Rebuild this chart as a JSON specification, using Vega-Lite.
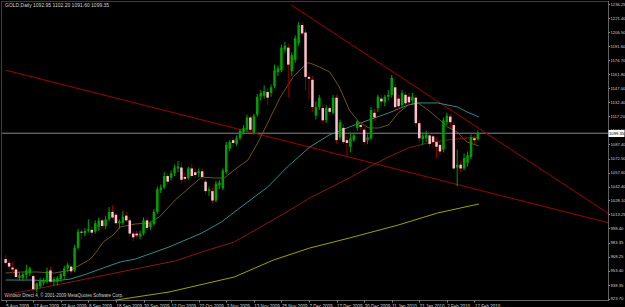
{
  "$schema": "https://vega.github.io/schema/vega-lite/v6.json",
  "width": 607,
  "height": 299,
  "autosize": {"type": "none"},
  "padding": {"left": 1, "top": 1, "right": 17, "bottom": 7},
  "background": "#000000",
  "config": {
    "view": {"stroke": "#7a7a7a", "strokeDash": [1, 1], "strokeWidth": 1},
    "font": "Liberation Sans",
    "axis": {"labelOverlap": false, "labelFont": "Liberation Sans", "titleFont": "Liberation Sans"},
    "axisX": {"labelOverlap": false, "labelSeparation": 0}
  },
  "title": {
    "text": "GOLD,Daily  1092.95 1102.20 1091.60 1099.35",
    "anchor": "start",
    "frame": "group",
    "offset": -7,
    "dx": 4,
    "fontSize": 5,
    "fontWeight": "normal",
    "font": "Liberation Sans",
    "color": "#d0d0d0"
  },
  "datasets": {
    "candles": [
      {"i":0,"o":966,"h":970,"l":960,"c":962},{"i":1,"o":962,"h":966,"l":955,"c":958},{"i":2,"o":957,"h":963,"l":951,"c":955},{"i":3,"o":955,"h":957,"l":944,"c":947},{"i":4,"o":946,"h":952,"l":943,"c":949},
      {"i":5,"o":946,"h":952,"l":943,"c":950},{"i":6,"o":949,"h":960,"l":945,"c":954},{"i":7,"o":951,"h":958,"l":948,"c":956},{"i":8,"o":948,"h":950,"l":930,"c":934},{"i":9,"o":934,"h":941,"l":931,"c":940},
      {"i":10,"o":937,"h":946,"l":935,"c":943},{"i":11,"o":941,"h":946,"l":938,"c":944},{"i":12,"o":942,"h":957,"l":940,"c":953},{"i":13,"o":954,"h":958,"l":940,"c":942},{"i":14,"o":942,"h":947,"l":938,"c":945},
      {"i":15,"o":942,"h":948,"l":938,"c":946},{"i":16,"o":945,"h":953,"l":942,"c":950},{"i":17,"o":948,"h":959,"l":945,"c":956},{"i":18,"o":956,"h":962,"l":952,"c":960},{"i":19,"o":958,"h":960,"l":950,"c":953},
      {"i":20,"o":954,"h":981,"l":952,"c":978},{"i":21,"o":978,"h":998,"l":976,"c":995},{"i":22,"o":995,"h":998,"l":987,"c":994},{"i":23,"o":993,"h":999,"l":990,"c":996},{"i":24,"o":996,"h":1008,"l":994,"c":998},
      {"i":25,"o":997,"h":1000,"l":990,"c":994},{"i":26,"o":995,"h":1007,"l":993,"c":1004},{"i":27,"o":1000,"h":1010,"l":996,"c":1007},{"i":28,"o":1007,"h":1009,"l":998,"c":1001},{"i":29,"o":1001,"h":1012,"l":998,"c":1008},
      {"i":30,"o":1008,"h":1021,"l":1006,"c":1016},{"i":31,"o":1016,"h":1023,"l":1008,"c":1010},{"i":32,"o":1013,"h":1015,"l":1002,"c":1004},{"i":33,"o":1004,"h":1008,"l":998,"c":1006},{"i":34,"o":1004,"h":1017,"l":1002,"c":1011},
      {"i":35,"o":1012,"h":1016,"l":1005,"c":1007},{"i":36,"o":1007,"h":1010,"l":990,"c":993},{"i":37,"o":993,"h":996,"l":985,"c":989},{"i":38,"o":993,"h":996,"l":988,"c":991},{"i":39,"o":990,"h":996,"l":987,"c":993},
      {"i":40,"o":993,"h":1010,"l":991,"c":1007},{"i":41,"o":1007,"h":1010,"l":996,"c":999},{"i":42,"o":1000,"h":1006,"l":997,"c":1004},{"i":43,"o":1003,"h":1019,"l":1001,"c":1016},{"i":44,"o":1016,"h":1043,"l":1014,"c":1040},
      {"i":45,"o":1039,"h":1045,"l":1036,"c":1042},{"i":46,"o":1042,"h":1058,"l":1040,"c":1054},{"i":47,"o":1054,"h":1057,"l":1045,"c":1048},{"i":48,"o":1052,"h":1060,"l":1049,"c":1057},{"i":49,"o":1057,"h":1066,"l":1054,"c":1063},
      {"i":50,"o":1062,"h":1070,"l":1058,"c":1064},{"i":51,"o":1063,"h":1068,"l":1046,"c":1050},{"i":52,"o":1053,"h":1058,"l":1048,"c":1051},{"i":53,"o":1052,"h":1064,"l":1050,"c":1062},{"i":54,"o":1062,"h":1067,"l":1052,"c":1054},
      {"i":55,"o":1058,"h":1062,"l":1052,"c":1055},{"i":56,"o":1057,"h":1062,"l":1053,"c":1059},{"i":57,"o":1059,"h":1062,"l":1050,"c":1053},{"i":58,"o":1048,"h":1051,"l":1035,"c":1038},{"i":59,"o":1038,"h":1043,"l":1033,"c":1040},
      {"i":60,"o":1038,"h":1042,"l":1025,"c":1028},{"i":61,"o":1028,"h":1049,"l":1026,"c":1046},{"i":62,"o":1044,"h":1050,"l":1040,"c":1047},{"i":63,"o":1041,"h":1062,"l":1039,"c":1060},{"i":64,"o":1058,"h":1090,"l":1056,"c":1087},
      {"i":65,"o":1083,"h":1092,"l":1080,"c":1090},{"i":66,"o":1092,"h":1095,"l":1085,"c":1089},{"i":67,"o":1088,"h":1097,"l":1086,"c":1094},{"i":68,"o":1094,"h":1104,"l":1092,"c":1102},{"i":69,"o":1100,"h":1108,"l":1098,"c":1105},
      {"i":70,"o":1103,"h":1119,"l":1101,"c":1116},{"i":71,"o":1116,"h":1118,"l":1101,"c":1103},{"i":72,"o":1100,"h":1120,"l":1098,"c":1118},{"i":73,"o":1119,"h":1141,"l":1117,"c":1138},{"i":74,"o":1138,"h":1145,"l":1134,"c":1142},
      {"i":75,"o":1139,"h":1150,"l":1136,"c":1144},{"i":76,"o":1143,"h":1147,"l":1129,"c":1137},{"i":77,"o":1142,"h":1151,"l":1138,"c":1148},{"i":78,"o":1149,"h":1172,"l":1147,"c":1166},{"i":79,"o":1164,"h":1171,"l":1160,"c":1168},
      {"i":80,"o":1166,"h":1193,"l":1164,"c":1190},{"i":81,"o":1188,"h":1196,"l":1185,"c":1192},{"i":82,"o":1190,"h":1194,"l":1137,"c":1172},{"i":83,"o":1165,"h":1185,"l":1160,"c":1182},{"i":84,"o":1177,"h":1203,"l":1174,"c":1200},
      {"i":85,"o":1195,"h":1217,"l":1192,"c":1214},{"i":86,"o":1214,"h":1217,"l":1202,"c":1205},{"i":87,"o":1206,"h":1209,"l":1145,"c":1159},{"i":88,"o":1159,"h":1163,"l":1135,"c":1157},{"i":89,"o":1156,"h":1160,"l":1122,"c":1127},
      {"i":90,"o":1118,"h":1133,"l":1114,"c":1127},{"i":91,"o":1127,"h":1140,"l":1124,"c":1137},{"i":92,"o":1126,"h":1130,"l":1110,"c":1113},{"i":93,"o":1113,"h":1129,"l":1110,"c":1126},{"i":94,"o":1126,"h":1129,"l":1118,"c":1122},
      {"i":95,"o":1121,"h":1140,"l":1119,"c":1137},{"i":96,"o":1137,"h":1140,"l":1088,"c":1092},{"i":97,"o":1095,"h":1114,"l":1092,"c":1111},{"i":98,"o":1105,"h":1109,"l":1088,"c":1090},{"i":99,"o":1092,"h":1096,"l":1074,"c":1089},
      {"i":100,"o":1085,"h":1100,"l":1079,"c":1094},{"i":101,"o":1092,"h":1100,"l":1090,"c":1097},{"i":102,"o":1105,"h":1113,"l":1102,"c":1112},{"i":103,"o":1108,"h":1112,"l":1102,"c":1106},{"i":104,"o":1103,"h":1106,"l":1087,"c":1090},
      {"i":105,"o":1092,"h":1098,"l":1088,"c":1095},{"i":106,"o":1094,"h":1127,"l":1092,"c":1124},{"i":107,"o":1121,"h":1125,"l":1112,"c":1116},{"i":108,"o":1126,"h":1140,"l":1122,"c":1138},{"i":109,"o":1136,"h":1140,"l":1128,"c":1133},
      {"i":110,"o":1132,"h":1140,"l":1128,"c":1138},{"i":111,"o":1138,"h":1145,"l":1134,"c":1140},{"i":112,"o":1140,"h":1161,"l":1137,"c":1158},{"i":113,"o":1148,"h":1152,"l":1122,"c":1127},{"i":114,"o":1136,"h":1140,"l":1124,"c":1128},
      {"i":115,"o":1129,"h":1145,"l":1126,"c":1142},{"i":116,"o":1140,"h":1143,"l":1128,"c":1131},{"i":117,"o":1138,"h":1142,"l":1128,"c":1132},{"i":118,"o":1134,"h":1142,"l":1130,"c":1138},{"i":119,"o":1137,"h":1140,"l":1106,"c":1110},
      {"i":120,"o":1110,"h":1114,"l":1090,"c":1094},{"i":121,"o":1093,"h":1100,"l":1087,"c":1097},{"i":122,"o":1094,"h":1102,"l":1090,"c":1098},{"i":123,"o":1097,"h":1100,"l":1085,"c":1088},{"i":124,"o":1096,"h":1099,"l":1083,"c":1090},
      {"i":125,"o":1090,"h":1095,"l":1073,"c":1085},{"i":126,"o":1087,"h":1090,"l":1076,"c":1080},{"i":127,"o":1082,"h":1116,"l":1079,"c":1113},{"i":128,"o":1111,"h":1121,"l":1108,"c":1118},{"i":129,"o":1117,"h":1120,"l":1105,"c":1111},
      {"i":130,"o":1108,"h":1111,"l":1060,"c":1062},{"i":131,"o":1063,"h":1082,"l":1043,"c":1066},{"i":132,"o":1066,"h":1070,"l":1058,"c":1062},{"i":133,"o":1062,"h":1078,"l":1060,"c":1073},{"i":134,"o":1068,"h":1080,"l":1064,"c":1076},
      {"i":135,"o":1074,"h":1098,"l":1072,"c":1095},{"i":136,"o":1094,"h":1097,"l":1088,"c":1092},{"i":137,"o":1092.95,"h":1102.2,"l":1091.6,"c":1099.35}
    ],
    "ma": [
      {"m":"a","i":0,"p":951.2},{"m":"a","i":4.65,"p":952.3},{"m":"a","i":9.2,"p":952.3},{"m":"a","i":14.1,"p":951.2},{"m":"a","i":18.9,"p":954.4},{"m":"a","i":22.6,"p":961.8},{"m":"a","i":24.6,"p":966.1},{"m":"a","i":26.3,"p":973.5},{"m":"a","i":28.3,"p":984.1},{"m":"a","i":31.2,"p":991.5},{"m":"a","i":33.2,"p":1000.0},{"m":"a","i":37.7,"p":1003.2},{"m":"a","i":41.7,"p":1004.2},{"m":"a","i":44.6,"p":1010.6},{"m":"a","i":49.2,"p":1028.6},{"m":"a","i":53.2,"p":1041.3},{"m":"a","i":56.9,"p":1052.9},{"m":"a","i":60.6,"p":1051.9},{"m":"a","i":63.4,"p":1051.9},{"m":"a","i":66.3,"p":1060.4},{"m":"a","i":70.3,"p":1071.0},{"m":"a","i":73.1,"p":1089.0},{"m":"a","i":76.0,"p":1110.2},{"m":"a","i":79.7,"p":1137.7},{"m":"a","i":83.4,"p":1158.9},{"m":"a","i":87.4,"p":1173.7},{"m":"a","i":88.3,"p":1173.7},{"m":"a","i":91.1,"p":1169.5},{"m":"a","i":94.0,"p":1164.2},{"m":"a","i":96.8,"p":1148.3},{"m":"a","i":99.7,"p":1123.9},{"m":"a","i":102.5,"p":1111.2},{"m":"a","i":105.4,"p":1104.9},{"m":"a","i":108.2,"p":1104.9},{"m":"a","i":111.1,"p":1108.1},{"m":"a","i":113.9,"p":1120.8},{"m":"a","i":116.8,"p":1129.3},{"m":"a","i":119.6,"p":1131.4},{"m":"a","i":122.5,"p":1124.0},{"m":"a","i":125.3,"p":1115.5},{"m":"a","i":128.2,"p":1106.0},{"m":"a","i":131.0,"p":1100.6},{"m":"a","i":133.9,"p":1090.0},{"m":"a","i":137.3,"p":1085.8},
      {"m":"b","i":0,"p":943.8},{"m":"b","i":7.5,"p":943.8},{"m":"b","i":14.1,"p":942.8},{"m":"b","i":18.9,"p":944.9},{"m":"b","i":23.5,"p":950.2},{"m":"b","i":28.3,"p":956.6},{"m":"b","i":33.2,"p":962.9},{"m":"b","i":37.7,"p":966.1},{"m":"b","i":47.4,"p":978.8},{"m":"b","i":56.9,"p":993.6},{"m":"b","i":62.6,"p":1005.3},{"m":"b","i":68.3,"p":1021.2},{"m":"b","i":76.0,"p":1042.3},{"m":"b","i":81.7,"p":1063.5},{"m":"b","i":88.2,"p":1084.7},{"m":"b","i":93.9,"p":1097.5},{"m":"b","i":99.7,"p":1105.9},{"m":"b","i":105.4,"p":1113.4},{"m":"b","i":111.1,"p":1120.8},{"m":"b","i":116.8,"p":1129.3},{"m":"b","i":119.6,"p":1131.4},{"m":"b","i":125.3,"p":1131.4},{"m":"b","i":131.0,"p":1127.2},{"m":"b","i":133.9,"p":1121.8},{"m":"b","i":137.3,"p":1116.5},
      {"m":"c","i":0,"p":928.0},{"m":"c","i":16.1,"p":939.6},{"m":"c","i":28.3,"p":948.6},{"m":"c","i":37.7,"p":955.6},{"m":"c","i":49.2,"p":964.0},{"m":"c","i":56.9,"p":973.5},{"m":"c","i":66.3,"p":984.1},{"m":"c","i":76.0,"p":1004.2},{"m":"c","i":82.5,"p":1018.0},{"m":"c","i":88.2,"p":1030.7},{"m":"c","i":93.9,"p":1041.3},{"m":"c","i":99.7,"p":1051.9},{"m":"c","i":105.4,"p":1063.5},{"m":"c","i":111.1,"p":1074.2},{"m":"c","i":116.8,"p":1083.7},{"m":"c","i":122.5,"p":1089.0},{"m":"c","i":128.2,"p":1092.2},{"m":"c","i":133.9,"p":1094.3},{"m":"c","i":137.3,"p":1095.3},
      {"m":"d","i":28,"p":919.5},{"m":"d","i":32.0,"p":922.6},{"m":"d","i":47.4,"p":931.1},{"m":"d","i":66.3,"p":947.0},{"m":"d","i":77.7,"p":965.0},{"m":"d","i":88.2,"p":977.7},{"m":"d","i":99.7,"p":988.3},{"m":"d","i":113.9,"p":1002.1},{"m":"d","i":125.3,"p":1014.8},{"m":"d","i":137.3,"p":1024.4}
    ],
    "trend": [
      {"t":"price","i":-1,"p":1099.35},{"t":"price","i":175,"p":1099.35},
      {"t":"upper","i":82.8,"p":1235.2},{"t":"upper","i":175,"p":1013.8},
      {"t":"lower","i":0,"p":1166.1},{"t":"lower","i":175,"p":1004.3}
    ]
  },
  "encoding": {
    "x": {"field": "i", "type": "quantitative",
      "scale": {"domain": [0.1, 173.3], "nice": false, "zero": false},
      "axis": {"values": [0,8,16,24,32,40,48,56,64,72,80,88,96,104,112,120,128,136],
        "labelExpr": "['5 Aug 2009','17 Aug 2009','27 Aug 2009','8 Sep 2009','18 Sep 2009','30 Sep 2009','12 Oct 2009','22 Oct 2009','3 Nov 2009','13 Nov 2009','25 Nov 2009','7 Dec 2009','17 Dec 2009','30 Dec 2009','11 Jan 2010','21 Jan 2010','2 Feb 2010','12 Feb 2010'][round(datum.value/8)]",
        "labelAlign": "left", "labelFontSize": 4.5, "labelColor": "#d0d0d0", "labelPadding": 1, "labelOverlap": false, "labelFlush": false, "labelSeparation": 0,
        "tickSize": 2, "tickColor": "#8a8a8a", "domainColor": "#8a8a8a", "domainDash": [1, 1], "grid": false,
        "title": "Windsor Direct 4, © 2001-2009 MetaQuotes Software Corp.",
        "titleAnchor": "start", "titleAlign": "left", "titleX": 3, "titleY": -4, "titleFontSize": 4.5,
        "titleFontWeight": "normal", "titleColor": "#d0d0d0", "titleBaseline": "alphabetic"}}
  },
  "resolve": {"axis": {"y": "independent"}},
  "layer": [
    {
      "data": {"name": "trend"},
      "transform": [{"filter": "datum.t == 'price'"}],
      "mark": {"type": "line", "color": "#8a8a8a", "strokeWidth": 1, "clip": true},
      "encoding": {
        "y": {"field": "p", "type": "quantitative",
          "scale": {"domain": [922.64, 1239.43], "nice": false, "zero": false},
          "axis": {"orient": "right", "values": [1099.35], "format": ".2f", "domain": false, "grid": false,
            "ticks": true, "tickColor": "#ffffff", "tickSize": 16, "tickWidth": 7, "tickOffset": 0,
            "labelPadding": -15.5, "labelFontSize": 4.2, "labelColor": "#000000", "labelAlign": "left", "labelBaseline": "middle",
            "title": null, "zindex": 2}}
      }
    },
    {
      "data": {"name": "trend"},
      "transform": [{"filter": "datum.t != 'price'"}],
      "mark": {"type": "line", "color": "#a00000", "strokeWidth": 1, "clip": true},
      "encoding": {
        "y": {"field": "p", "type": "quantitative", "axis": null},
        "detail": {"field": "t"}
      }
    },
    {
      "data": {"name": "ma"},
      "mark": {"type": "line", "strokeWidth": 1, "clip": true},
      "encoding": {
        "y": {"field": "p", "type": "quantitative", "axis": null},
        "color": {"field": "m", "type": "nominal", "legend": null,
          "scale": {"domain": ["a", "b", "c", "d"], "range": ["#6e5420", "#2f8c8a", "#841818", "#a0a000"]}}
      }
    },
    {
      "data": {"name": "candles"},
      "mark": {"type": "rule", "strokeWidth": 1, "clip": true},
      "encoding": {
        "y": {"field": "l", "type": "quantitative", "axis": null},
        "y2": {"field": "h"},
        "color": {"condition": {"test": "datum.c >= datum.o", "value": "#00a000"}, "value": "#8b0000"}
      }
    },
    {
      "data": {"name": "candles"},
      "mark": {"type": "bar", "width": 2.5, "clip": true},
      "encoding": {
        "y": {"field": "o", "type": "quantitative",
          "axis": {"orient": "right", "values": [923.70,938.35,953.40,968.25,983.35,998.40,1013.25,1028.10,1042.40,1057.60,1072.50,1087.40,1102.30,1117.20,1132.40,1147.00,1161.80,1176.70,1191.60,1206.50,1221.40,1236.25],
            "format": ".2f", "labelFontSize": 4.2, "labelColor": "#d0d0d0", "labelPadding": 0.5, "labelOverlap": false,
            "tickSize": 1.5, "tickColor": "#8a8a8a", "domainColor": "#8a8a8a", "domainDash": [1, 1], "grid": false, "title": null}},
        "y2": {"field": "c"},
        "color": {"condition": {"test": "datum.c >= datum.o", "value": "#00a000"}, "value": "#ffc0cb"}
      }
    }
  ]
}
